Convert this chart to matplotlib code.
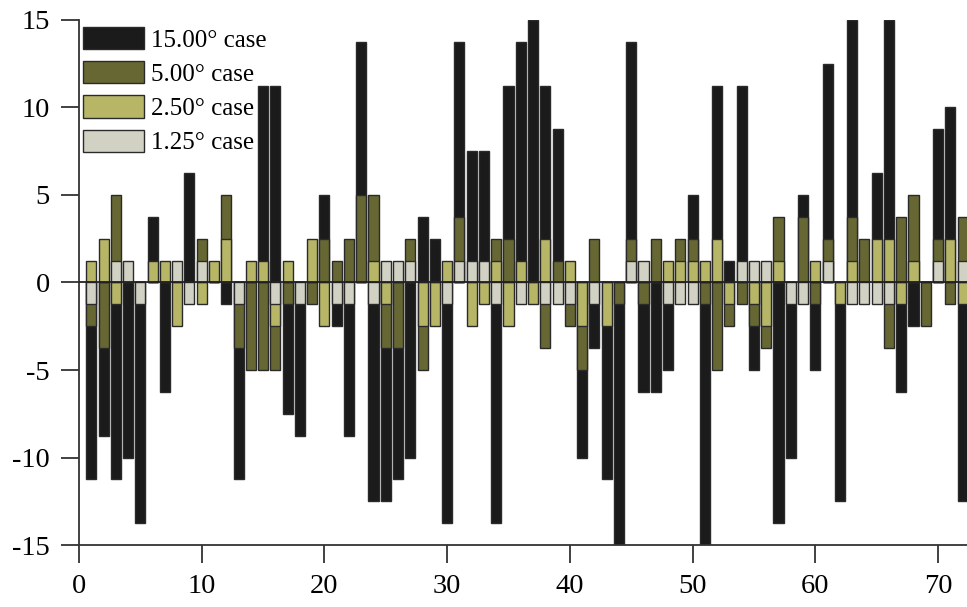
import numpy as np
import matplotlib
matplotlib.use("Agg")
import matplotlib.pyplot as plt

plt.rcParams['font.family'] = ['Liberation Serif', 'DejaVu Serif']
plt.rcParams['axes.unicode_minus'] = False

# sample index 1..72, one value per case
idx = np.arange(1, 73)

case_15 = [-11.25, -8.75, -11.25, -10, -13.75, 3.75, -6.25, 0, 6.25, 0,
           0, -1.25, -11.25, 0, 11.25, 11.25, -7.5, -8.75, 0, 5,
           -2.5, -8.75, 13.75, -12.5, -12.5, -11.25, -10, 3.75, 2.5, -13.75,
           13.75, 7.5, 7.5, -13.75, 11.25, 13.75, 15, 11.25, 8.75, 0,
           -10, -3.75, -11.25, -15, 13.75, -6.25, -6.25, -5, 0, 5,
           -15, 11.25, 1.25, 11.25, -5, 0, -13.75, -10, 5, -5,
           12.5, -12.5, 15, 0, 6.25, 15, -6.25, -2.5, 0, 8.75,
           10, -12.5]
case_5 = [-2.5, -3.75, 5, 0, 0, 0, 0, 0, 0, 2.5,
          0, 5, -3.75, -5, -5, -5, -1.25, 0, -1.25, 2.5,
          1.25, 2.5, 5, 5, -3.75, -3.75, 2.5, -5, 0, 0,
          3.75, 0, 0, 2.5, 2.5, 0, 0, -3.75, 1.25, -2.5,
          -5, 2.5, 0, -1.25, 2.5, -1.25, 2.5, 0, 2.5, 2.5,
          -1.25, -5, -2.5, -1.25, -2.5, -3.75, 3.75, 0, 3.75, -1.25,
          2.5, 0, 3.75, 2.5, 0, -3.75, 3.75, 5, -2.5, 2.5,
          -1.25, 3.75]
case_2p5 = [1.25, 2.5, -1.25, 0, 0, 1.25, 1.25, -2.5, 0, -1.25,
            1.25, 2.5, 0, 1.25, 1.25, -2.5, 1.25, 0, 2.5, -2.5,
            0, 0, 0, 1.25, -1.25, 0, 0, -2.5, -2.5, 1.25,
            0, -2.5, -1.25, 1.25, -2.5, 1.25, -1.25, 2.5, 0, 1.25,
            -2.5, 0, -2.5, 0, 0, 0, 0, 1.25, 1.25, 1.25,
            1.25, 2.5, -1.25, 0, -1.25, -2.5, 1.25, 0, 0, 1.25,
            0, -1.25, 1.25, 0, 2.5, 2.5, -1.25, 1.25, 0, 0,
            2.5, -1.25]
case_1p25 = [-1.25, 0, 1.25, 1.25, -1.25, 0, 0, 1.25, -1.25, 1.25,
             0, 0, -1.25, 0, 0, -1.25, 0, -1.25, 0, 0,
             -1.25, -1.25, 0, -1.25, 1.25, 1.25, 1.25, 0, 0, -1.25,
             1.25, 1.25, 1.25, -1.25, 0, -1.25, 0, -1.25, -1.25, -1.25,
             0, -1.25, 0, 0, 1.25, 1.25, 0, -1.25, -1.25, -1.25,
             0, 0, 0, 1.25, 1.25, 1.25, 0, -1.25, -1.25, 0,
             1.25, 0, -1.25, -1.25, -1.25, -1.25, 0, 0, 0, 1.25,
             0, 1.25]

series = [
    (case_15, '#1b1b1b', '15.00° case'),
    (case_5, '#676734', '5.00° case'),
    (case_2p5, '#b6b666', '2.50° case'),
    (case_1p25, '#d2d2c4', '1.25° case'),
]

fig = plt.figure(figsize=(9.67, 6.07), dpi=100)
ax = fig.add_axes([0.0817, 0.1021, 0.9183, 0.8650])

for vals, col, lab in series:
    ax.bar(idx, vals, width=0.82, color=col, edgecolor='#2a2a2a',
           linewidth=1.0, label=lab, zorder=2)

ax.axhline(0, color='#222222', linewidth=1.3, zorder=3)

ax.set_xlim(0, 72.36)
ax.set_ylim(-15, 15)
ax.set_xticks([0, 10, 20, 30, 40, 50, 60, 70])
ax.set_yticks([-15, -10, -5, 0, 5, 10, 15])

for side in ['top', 'right']:
    ax.spines[side].set_visible(False)
for side in ['left', 'bottom']:
    ax.spines[side].set_linewidth(1.3)
    ax.spines[side].set_color('#333333')

ax.tick_params(axis='both', direction='out', length=13, width=1.3,
               color='#333333', labelsize=20.5, pad=8)

ax.legend(loc='upper left', bbox_to_anchor=(0.004, 0.987), frameon=False,
          fontsize=18, handlelength=2.45, handleheight=1.0,
          labelspacing=0.38, handletextpad=0.28, borderpad=0.0,
          borderaxespad=0.0)

fig.savefig('out.png', dpi=100)
